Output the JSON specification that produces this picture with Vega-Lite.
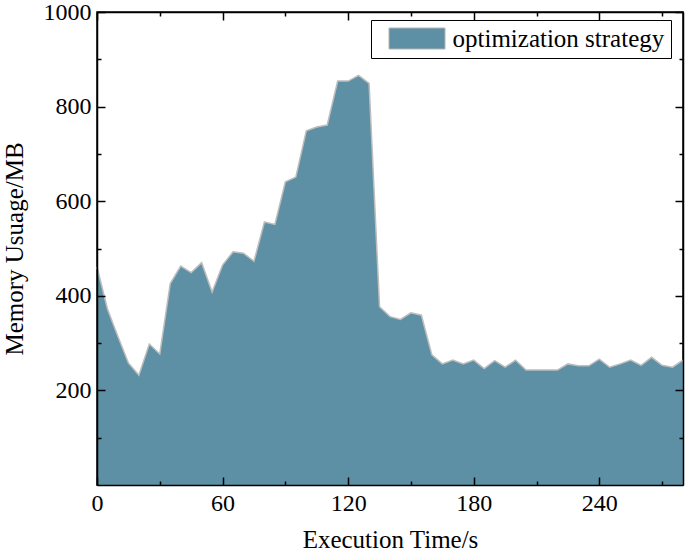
{
  "$schema": "https://vega.github.io/schema/vega-lite/v6.json",
  "width": 586,
  "height": 473,
  "autosize": {"type": "none"},
  "padding": {"left": 97, "top": 12, "right": 2, "bottom": 73},
  "background": "white",
  "data": {
    "values": [
      {"t": 0, "mem": 461}, {"t": 5, "mem": 372}, {"t": 10, "mem": 314}, {"t": 15, "mem": 258},
      {"t": 20, "mem": 232}, {"t": 25, "mem": 298}, {"t": 30, "mem": 277}, {"t": 35, "mem": 426},
      {"t": 40, "mem": 463}, {"t": 45, "mem": 449}, {"t": 50, "mem": 470}, {"t": 55, "mem": 408},
      {"t": 60, "mem": 465}, {"t": 65, "mem": 493}, {"t": 70, "mem": 490}, {"t": 75, "mem": 473},
      {"t": 80, "mem": 556}, {"t": 85, "mem": 551}, {"t": 90, "mem": 641}, {"t": 95, "mem": 651},
      {"t": 100, "mem": 749}, {"t": 105, "mem": 757}, {"t": 110, "mem": 761}, {"t": 115, "mem": 854},
      {"t": 120, "mem": 854}, {"t": 125, "mem": 866}, {"t": 130, "mem": 849}, {"t": 135, "mem": 377},
      {"t": 140, "mem": 356}, {"t": 145, "mem": 350}, {"t": 150, "mem": 364}, {"t": 155, "mem": 359},
      {"t": 160, "mem": 275}, {"t": 165, "mem": 256}, {"t": 170, "mem": 264}, {"t": 175, "mem": 256},
      {"t": 180, "mem": 264}, {"t": 185, "mem": 246}, {"t": 190, "mem": 263}, {"t": 195, "mem": 249},
      {"t": 200, "mem": 264}, {"t": 205, "mem": 243}, {"t": 210, "mem": 243}, {"t": 215, "mem": 243},
      {"t": 220, "mem": 243}, {"t": 225, "mem": 256}, {"t": 230, "mem": 252}, {"t": 235, "mem": 252},
      {"t": 240, "mem": 266}, {"t": 245, "mem": 249}, {"t": 250, "mem": 256}, {"t": 255, "mem": 264},
      {"t": 260, "mem": 253}, {"t": 265, "mem": 270}, {"t": 270, "mem": 253}, {"t": 275, "mem": 249},
      {"t": 280, "mem": 264}
    ]
  },
  "layer": [
    {
      "mark": {"type": "area", "opacity": 1},
      "encoding": {
        "x": {
          "field": "t", "type": "quantitative",
          "scale": {"domain": [0, 280], "nice": false, "zero": false},
          "axis": {
            "orient": "bottom",
            "zindex": 1,
            "title": "Execution Time/s",
            "values": [0, 60, 120, 180, 240],
            "labelFlush": false,
            "tickSize": -8,
            "labelPadding": 14,
            "titlePadding": 12
          }
        },
        "y": {
          "field": "mem", "type": "quantitative",
          "scale": {"domain": [0, 1000], "nice": false},
          "axis": {
            "orient": "left",
            "zindex": 1,
            "format": "d",
            "title": "Memory Usuage/MB",
            "titleX": -75,
            "titleBaseline": "alphabetic",
            "values": [200, 400, 600, 800, 1000],
            "labelFlush": false,
            "tickSize": -8,
            "labelPadding": 14
          }
        },
        "color": {
          "datum": "optimization strategy",
          "type": "nominal",
          "scale": {"range": ["#5d90a5"]},
          "legend": {
            "title": null,
            "orient": "none",
            "legendX": 274,
            "legendY": 8,
            "symbolType": "M-2.667,-1H2.667V1H-2.667Z",
            "symbolSize": 441,
            "symbolOffset": 27.5,
            "symbolStrokeColor": "#b5b5b5",
            "symbolStrokeWidth": 1,
            "symbolOpacity": 1,
            "labelFontSize": 25,
            "labelFont": "Liberation Serif",
            "labelColor": "black",
            "labelLimit": 400,
            "labelOffset": 23,
            "padding": 6,
            "strokeColor": "black",
            "fillColor": "white"
          }
        }
      }
    },
    {
      "mark": {"type": "line", "color": "#bdbdbd", "strokeWidth": 1.5},
      "encoding": {
        "x": {
          "field": "t", "type": "quantitative",
          "axis": {
            "orient": "top", "zindex": 1, "title": null, "labels": false,
            "values": [0, 60, 120, 180, 240], "tickSize": -8
          }
        },
        "y": {
          "field": "mem", "type": "quantitative",
          "axis": {
            "orient": "right", "zindex": 1, "title": null, "labels": false,
            "values": [200, 400, 600, 800, 1000], "tickSize": -8
          }
        }
      }
    },
    {
      "mark": {"type": "line", "opacity": 0},
      "encoding": {
        "x": {
          "field": "t", "type": "quantitative",
          "axis": {
            "orient": "bottom", "zindex": 1, "title": null, "labels": false, "domain": false,
            "values": [30, 90, 150, 210, 270], "tickSize": -4
          }
        },
        "y": {
          "field": "mem", "type": "quantitative",
          "axis": {
            "orient": "left", "zindex": 1, "title": null, "labels": false, "domain": false,
            "values": [100, 300, 500, 700, 900], "tickSize": -4
          }
        }
      }
    },
    {
      "mark": {"type": "line", "opacity": 0},
      "encoding": {
        "x": {
          "field": "t", "type": "quantitative",
          "axis": {
            "orient": "top", "zindex": 1, "title": null, "labels": false, "domain": false,
            "values": [30, 90, 150, 210, 270], "tickSize": -4
          }
        },
        "y": {
          "field": "mem", "type": "quantitative",
          "axis": {
            "orient": "right", "zindex": 1, "title": null, "labels": false, "domain": false,
            "values": [100, 300, 500, 700, 900], "tickSize": -4
          }
        }
      }
    }
  ],
  "resolve": {"axis": {"x": "independent", "y": "independent"}},
  "config": {
    "font": "Liberation Serif",
    "view": {"stroke": "black", "strokeWidth": 1.5},
    "axis": {
      "grid": false,
      "ticks": true,
      "domainColor": "black",
      "domainWidth": 1.5,
      "tickColor": "black",
      "tickWidth": 1.5,
      "labelFont": "Liberation Serif",
      "labelFontSize": 24,
      "labelColor": "black",
      "titleFont": "Liberation Serif",
      "titleFontSize": 25,
      "titleFontWeight": "normal",
      "titleColor": "black"
    }
  }
}
